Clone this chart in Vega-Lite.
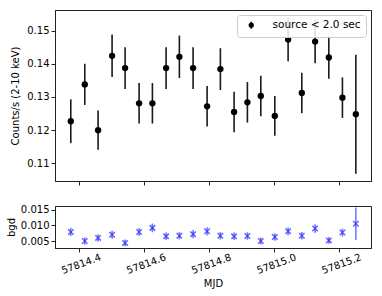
{
  "$schema": "https://vega.github.io/schema/vega-lite/v6.json",
  "padding": {"left": 5, "top": 9, "right": 5, "bottom": 5},
  "background": "white",
  "config": {
    "font": "DejaVu Sans",
    "view": {"stroke": "#222", "strokeWidth": 1},
    "axis": {"grid": false, "labelFontSize": 10, "titleFontSize": 10, "titleFontWeight": "normal", "labelColor": "black", "titleColor": "black", "domainColor": "#222", "tickColor": "#222", "tickSize": 4, "labelFont": "DejaVu Sans", "titleFont": "DejaVu Sans", "labelOverlap": false}
  },
  "datasets": {
    "lc": [
      {"mjd": 57814.3745, "rate": 0.1227, "err": 0.0066, "bgd": 0.0079, "bgd_err": 0.0013, "series": "source < 2.0 sec"},
      {"mjd": 57814.4175, "rate": 0.1338, "err": 0.0062, "bgd": 0.0050, "bgd_err": 0.0012, "series": "source < 2.0 sec"},
      {"mjd": 57814.4584, "rate": 0.1200, "err": 0.0059, "bgd": 0.0060, "bgd_err": 0.0012, "series": "source < 2.0 sec"},
      {"mjd": 57814.5014, "rate": 0.1424, "err": 0.0064, "bgd": 0.0070, "bgd_err": 0.0013, "series": "source < 2.0 sec"},
      {"mjd": 57814.5414, "rate": 0.1387, "err": 0.0063, "bgd": 0.0044, "bgd_err": 0.0011, "series": "source < 2.0 sec"},
      {"mjd": 57814.5844, "rate": 0.1281, "err": 0.0061, "bgd": 0.0079, "bgd_err": 0.0013, "series": "source < 2.0 sec"},
      {"mjd": 57814.6253, "rate": 0.1281, "err": 0.0061, "bgd": 0.0092, "bgd_err": 0.0014, "series": "source < 2.0 sec"},
      {"mjd": 57814.6674, "rate": 0.1387, "err": 0.0063, "bgd": 0.0065, "bgd_err": 0.0012, "series": "source < 2.0 sec"},
      {"mjd": 57814.7082, "rate": 0.1421, "err": 0.0064, "bgd": 0.0067, "bgd_err": 0.0012, "series": "source < 2.0 sec"},
      {"mjd": 57814.7503, "rate": 0.1387, "err": 0.0063, "bgd": 0.0072, "bgd_err": 0.0013, "series": "source < 2.0 sec"},
      {"mjd": 57814.7934, "rate": 0.1272, "err": 0.0061, "bgd": 0.0081, "bgd_err": 0.0013, "series": "source < 2.0 sec"},
      {"mjd": 57814.8342, "rate": 0.1384, "err": 0.0063, "bgd": 0.0067, "bgd_err": 0.0012, "series": "source < 2.0 sec"},
      {"mjd": 57814.8763, "rate": 0.1255, "err": 0.0061, "bgd": 0.0065, "bgd_err": 0.0012, "series": "source < 2.0 sec"},
      {"mjd": 57814.9172, "rate": 0.1284, "err": 0.0061, "bgd": 0.0066, "bgd_err": 0.0012, "series": "source < 2.0 sec"},
      {"mjd": 57814.9584, "rate": 0.1303, "err": 0.0061, "bgd": 0.0050, "bgd_err": 0.0011, "series": "source < 2.0 sec"},
      {"mjd": 57815.0014, "rate": 0.1243, "err": 0.0060, "bgd": 0.0063, "bgd_err": 0.0012, "series": "source < 2.0 sec"},
      {"mjd": 57815.0423, "rate": 0.1473, "err": 0.0065, "bgd": 0.0081, "bgd_err": 0.0013, "series": "source < 2.0 sec"},
      {"mjd": 57815.0844, "rate": 0.1312, "err": 0.0061, "bgd": 0.0067, "bgd_err": 0.0012, "series": "source < 2.0 sec"},
      {"mjd": 57815.1253, "rate": 0.1467, "err": 0.0065, "bgd": 0.0090, "bgd_err": 0.0014, "series": "source < 2.0 sec"},
      {"mjd": 57815.1674, "rate": 0.1419, "err": 0.0064, "bgd": 0.0052, "bgd_err": 0.0011, "series": "source < 2.0 sec"},
      {"mjd": 57815.2092, "rate": 0.1298, "err": 0.0061, "bgd": 0.0077, "bgd_err": 0.0013, "series": "source < 2.0 sec"},
      {"mjd": 57815.2504, "rate": 0.1248, "err": 0.0179, "bgd": 0.0105, "bgd_err": 0.0052, "series": "source < 2.0 sec"}
    ]
  },
  "vconcat": [
    {
      "width": 316,
      "height": 171,
      "data": {"name": "lc"},
      "layer": [
        {
          "mark": {"type": "errorbar", "ticks": false, "thickness": 1.6, "color": "#1a1a1a"},
          "encoding": {
            "x": {"field": "mjd", "type": "quantitative", "scale": {"domain": [57814.326, 57815.297], "nice": false, "zero": false},
                  "axis": {"values": [57814.4, 57814.6, 57814.8, 57815.0, 57815.2], "labels": false, "title": null}},
            "y": {"field": "rate", "type": "quantitative", "scale": {"domain": [0.1047, 0.1562], "nice": false, "zero": false},
                  "axis": {"values": [0.11, 0.12, 0.13, 0.14, 0.15], "format": ".2f", "title": "Counts/s (2-10 keV)", "titlePadding": 6}},
            "yError": {"field": "err"}
          }
        },
        {
          "mark": {"type": "point", "filled": true, "shape": "circle", "size": 40, "opacity": 1},
          "encoding": {
            "x": {"field": "mjd", "type": "quantitative"},
            "y": {"field": "rate", "type": "quantitative"},
            "color": {"field": "series", "type": "nominal", "scale": {"range": ["black"]},
              "legend": {"title": null, "orient": "top-right", "offset": 5, "padding": 5, "strokeColor": "#cccccc", "fillColor": "rgba(255,255,255,0.85)", "cornerRadius": 3, "labelFontSize": 10.5, "labelFont": "DejaVu Sans", "labelColor": "black", "symbolType": "M-0.5,0A0.5,0.5 0 1,1 0.5,0A0.5,0.5 0 1,1 -0.5,0Z M0,-0.9L0,0.9", "symbolSize": 60, "symbolStrokeWidth": 1.5, "symbolStrokeColor": "black", "symbolOffset": 4, "labelOffset": 16}}
          }
        }
      ]
    },
    {
      "width": 316,
      "height": 42,
      "data": {"name": "lc"},
      "encoding": {
        "x": {"field": "mjd", "type": "quantitative", "scale": {"domain": [57814.326, 57815.297], "nice": false, "zero": false},
              "axis": {"values": [57814.4, 57814.6, 57814.8, 57815.0, 57815.2], "format": ".1f", "labelAngle": -20, "labelAlign": "center", "labelBaseline": "top", "labelPadding": 7, "title": "MJD", "titlePadding": 3}},
        "y": {"field": "bgd", "type": "quantitative", "scale": {"domain": [0.00277, 0.0162], "nice": false, "zero": false},
              "axis": {"values": [0.005, 0.0100001, 0.015], "format": ".3f", "labelOverlap": false, "title": "bgd", "titlePadding": 4}}
      },
      "layer": [
        {
          "mark": {"type": "errorbar", "ticks": false, "thickness": 1.6, "color": "#3333ff", "opacity": 0.65},
          "encoding": {
            "yError": {"field": "bgd_err"}
          }
        },
        {
          "mark": {"type": "point", "filled": false, "shape": "M-1,-1L1,1M-1,1L1,-1", "size": 30, "color": "#2222ff", "strokeWidth": 1.5, "opacity": 0.7}
        }
      ]
    }
  ],
  "spacing": 18
}
